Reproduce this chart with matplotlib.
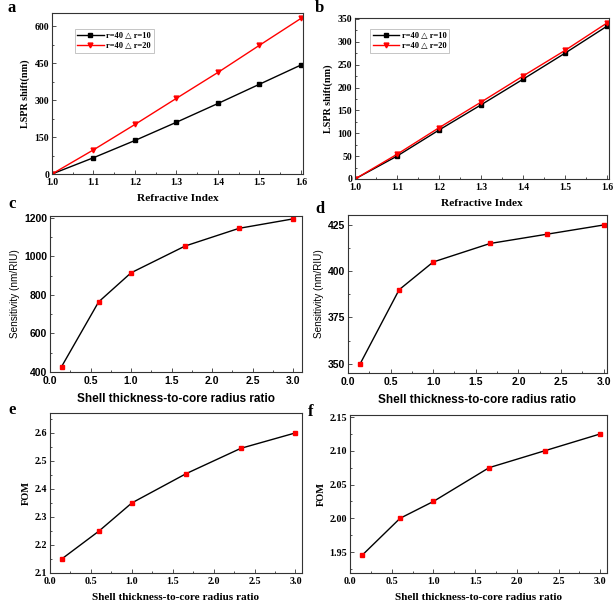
import numpy as np
import matplotlib
matplotlib.use("Agg")
import matplotlib.pyplot as plt
from matplotlib.ticker import AutoMinorLocator, MultipleLocator

# data
n_ri = [1.0, 1.1, 1.2, 1.3, 1.4, 1.5, 1.6]
a_r10 = [0, 66, 136, 210, 286, 364, 442]
a_r20 = [0, 98, 201, 307, 412, 522, 631]
b_r10 = [0, 50, 107, 162, 218, 275, 334]
b_r20 = [0, 54, 112, 168, 225, 281, 341]

ratio = [0.143, 0.6, 1.0, 1.667, 2.333, 3.0]
sens_c = [428, 764, 915, 1054, 1146, 1195]
sens_d = [350, 390, 405, 415, 420, 425]
fom_e = [2.15, 2.25, 2.35, 2.455, 2.545, 2.6]
fom_f = [1.945, 2.0, 2.025, 2.075, 2.1, 2.125]

leg_labels = ["r=40 \u25b3 r=10", "r=40 \u25b3 r=20"]

W, H = 614, 601
fig = plt.figure(figsize=(W / 100, H / 100), dpi=100)

serif = ["Liberation Serif", "DejaVu Serif"]
sans = ["Liberation Sans", "DejaVu Sans"]


def make_ax(l, r, t, b):
    return fig.add_axes([l / W, 1 - b / H, (r - l) / W, (b - t) / H])


def style(ax, fam, size):
    for s in ax.spines.values():
        s.set_color("#333333")
        s.set_linewidth(0.8)
    ax.tick_params(which="both", direction="in", top=False, right=False,
                   width=0.6, color="#333333")
    ax.tick_params(which="major", length=3, labelsize=size)
    ax.tick_params(axis="x", which="major", pad=3)
    ax.tick_params(axis="y", which="major", pad=2)
    ax.tick_params(which="minor", length=1.6)
    ax.xaxis.set_minor_locator(AutoMinorLocator(2))
    ax.yaxis.set_minor_locator(AutoMinorLocator(2))
    for lab in ax.get_xticklabels() + ax.get_yticklabels():
        lab.set_fontfamily(fam)
        lab.set_fontweight("bold")


def add_legend(ax, anchor):
    leg = ax.legend(loc="upper left", bbox_to_anchor=anchor,
                    prop={"family": serif, "weight": "bold", "size": 6},
                    frameon=True, fancybox=False, handlelength=3.2, borderpad=0.3,
                    labelspacing=0.3, handletextpad=0.3, borderaxespad=0)
    leg.get_frame().set_edgecolor("#aaaaaa")
    leg.get_frame().set_linewidth(0.6)


# a
ax = make_ax(52, 303, 13, 174)
ax.plot(n_ri, a_r10, color="black", marker="s", ms=3, lw=1, label=leg_labels[0])
ax.plot(n_ri, a_r20, color="red", marker="v", ms=3.5, lw=1, label=leg_labels[1])
ax.set_xlim(1.0, 1.605)
ax.set_ylim(0, 653)
ax.xaxis.set_major_locator(MultipleLocator(0.1))
ax.yaxis.set_major_locator(MultipleLocator(150))
style(ax, serif, 7)
ax.set_xlabel("Refractive Index", fontfamily=serif, fontweight="bold", fontsize=8.2, labelpad=5)
ax.set_ylabel("LSPR shift(nm)", fontfamily=serif, fontweight="bold", fontsize=7.3, labelpad=3)
add_legend(ax, (0.09, 0.9))

# b
ax = make_ax(355, 609, 18, 179)
ax.plot(n_ri, b_r10, color="black", marker="s", ms=3, lw=1, label=leg_labels[0])
ax.plot(n_ri, b_r20, color="red", marker="v", ms=3.5, lw=1, label=leg_labels[1])
ax.set_xlim(1.0, 1.605)
ax.set_ylim(0, 352)
ax.xaxis.set_major_locator(MultipleLocator(0.1))
ax.yaxis.set_major_locator(MultipleLocator(50))
style(ax, serif, 7)
ax.set_xlabel("Refractive Index", fontfamily=serif, fontweight="bold", fontsize=8.2, labelpad=5)
ax.set_ylabel("LSPR shift(nm)", fontfamily=serif, fontweight="bold", fontsize=7.3, labelpad=3)
add_legend(ax, (0.06, 0.93))

# c
ax = make_ax(50, 302, 216, 372)
ax.plot(ratio, sens_c, color="black", lw=1, marker="s", ms=3.2, mfc="red", mec="red")
ax.set_xlim(0, 3.11)
ax.set_ylim(400, 1210)
ax.xaxis.set_major_locator(MultipleLocator(0.5))
ax.yaxis.set_major_locator(MultipleLocator(200))
style(ax, sans, 7.5)
ax.set_xlabel("Shell thickness-to-core radius ratio", fontfamily=sans, fontweight="bold", fontsize=8.5, labelpad=5)
ax.set_ylabel("Sensitivity (nm/RIU)", fontfamily=sans, fontsize=7.2, labelpad=3)

# d
ax = make_ax(348, 607, 215, 373)
ax.plot(ratio, sens_d, color="black", lw=1, marker="s", ms=3.2, mfc="red", mec="red")
ax.set_xlim(0, 3.04)
ax.set_ylim(345, 430.4)
ax.xaxis.set_major_locator(MultipleLocator(0.5))
ax.yaxis.set_major_locator(MultipleLocator(25))
style(ax, sans, 7.5)
ax.set_xlabel("Shell thickness-to-core radius ratio", fontfamily=sans, fontweight="bold", fontsize=8.5, labelpad=5)
ax.set_ylabel("Sensitivity (nm/RIU)", fontfamily=sans, fontsize=7.2, labelpad=3)

# e
ax = make_ax(50, 302, 413, 573)
ax.plot(ratio, fom_e, color="black", lw=1, marker="s", ms=3.2, mfc="red", mec="red")
ax.set_xlim(0, 3.08)
ax.set_ylim(2.1, 2.671)
ax.xaxis.set_major_locator(MultipleLocator(0.5))
ax.yaxis.set_major_locator(MultipleLocator(0.1))
style(ax, serif, 7.2)
ax.set_xlabel("Shell thickness-to-core radius ratio", fontfamily=serif, fontweight="bold", fontsize=8.1, labelpad=5)
ax.set_ylabel("FOM", fontfamily=serif, fontweight="bold", fontsize=7.5, labelpad=3)

# f
ax = make_ax(350, 607, 415, 573)
ax.plot(ratio, fom_f, color="black", lw=1, marker="s", ms=3.2, mfc="red", mec="red")
ax.set_xlim(0, 3.08)
ax.set_ylim(1.919, 2.153)
ax.xaxis.set_major_locator(MultipleLocator(0.5))
ax.yaxis.set_major_locator(MultipleLocator(0.05))
style(ax, serif, 7.2)
ax.set_xlabel("Shell thickness-to-core radius ratio", fontfamily=serif, fontweight="bold", fontsize=8.1, labelpad=5)
ax.set_ylabel("FOM", fontfamily=serif, fontweight="bold", fontsize=7.5, labelpad=3)

# panel letters
for ch, x, y in [("a", 8, 8), ("b", 315, 8), ("c", 8, 204), ("d", 315, 209),
                 ("e", 8, 410), ("f", 308, 412)]:
    fig.text(x / W, 1 - y / H, ch, fontfamily=serif, fontweight="bold",
             fontsize=12, va="center", ha="left")

fig.savefig("out.png", dpi=100)
